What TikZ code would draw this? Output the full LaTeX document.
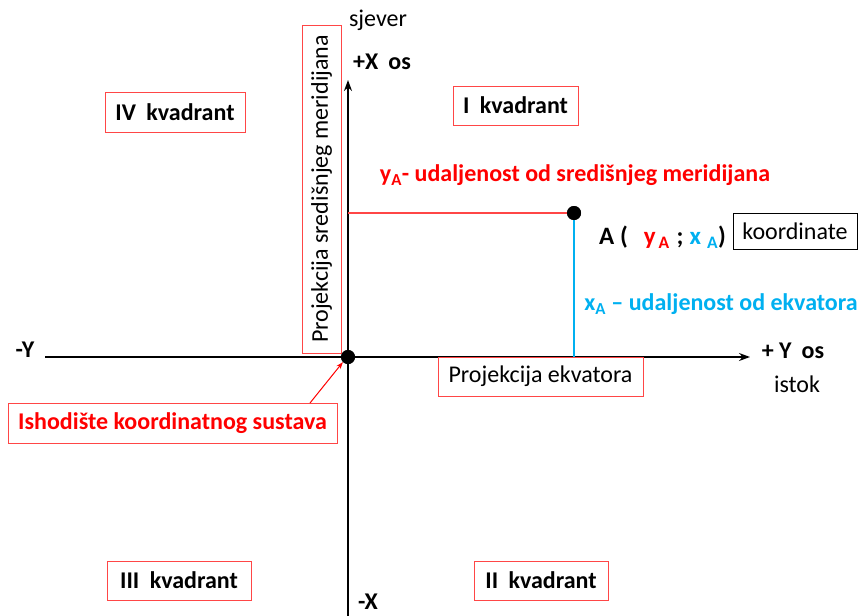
\documentclass[tikz,border=0pt]{standalone}
\usepackage{fontspec}
\setmainfont{Carlito}
\usetikzlibrary{arrows.meta}
\definecolor{myred}{RGB}{255,0,0}
\definecolor{boxred}{RGB}{255,70,70}
\definecolor{myblue}{RGB}{0,176,240}
\begin{document}
\begin{tikzpicture}[x=1pt,y=-1pt,
  redbox/.style={draw=boxred,line width=0.8pt,inner sep=0pt,fill=white},
  blkbox/.style={draw=black,line width=0.8pt,inner sep=0pt},
  lbl/.style={font=\fontsize{24}{28}\selectfont,inner sep=0pt},
  blbl/.style={font=\fontsize{24}{28}\selectfont\bfseries,inner sep=0pt},
  axis/.style={line width=1.6pt,-{Stealth[length=11pt,width=8pt]}},
  dot/.style={circle,fill=black,inner sep=0pt,minimum size=14pt}]
\useasboundingbox (0,0) rectangle (860,616);
% axes
\coordinate (xbot) at (348,616);
\coordinate (xtop) at (348,80);
\coordinate (yleft) at (45,357);
\coordinate (yright) at (750,357);
\draw[axis] (xbot) -- (xtop);
\draw[axis] (yleft) -- (yright);
% boxes
\node[redbox,minimum width=39pt,minimum height=328pt] (mer) at (321.5,189) {};
\node[lbl,rotate=90] (mertxt) at (mer.center) {Projekcija središnjeg meridijana};
\node[redbox,minimum width=140pt,minimum height=40pt] (q4) at (175,112) {};
\node[blbl] at (q4.center) {IV\hspace{5pt} kvadrant};
\node[redbox,minimum width=125pt,minimum height=39pt] (q1) at (515.5,105.5) {};
\node[blbl] at (q1.center) {I\hspace{5pt} kvadrant};
\node[redbox,minimum width=144pt,minimum height=39pt] (q3) at (179,580.5) {};
\node[blbl] at (q3.center) {III\hspace{5pt} kvadrant};
\node[redbox,minimum width=134pt,minimum height=39pt] (q2) at (541,580.5) {};
\node[blbl] at (q2.center) {II\hspace{5pt} kvadrant};
\node[redbox,minimum width=205pt,minimum height=39pt] (ekv) at (540.5,376.5) {};
\node[lbl] at (ekv.center) {Projekcija ekvatora};
\node[blkbox,minimum width=124pt,minimum height=36pt] (koord) at (795,231) {};
\node[lbl] at (koord.center) {koordinate};
\node[redbox,minimum width=329pt,minimum height=40pt] (ish) at (172.5,423) {};
\node[blbl,text=myred] at (ish.center) {Ishodište koordinatnog sustava};
% points
\node[dot] (O) at (348,357) {};
\node[dot] (A) at (574,213) {};
\coordinate (Ax) at (348,213);
\coordinate (Ay) at (574,357);
\draw[boxred,line width=1.6pt] (Ax) -- (A.center);
\draw[myblue,line width=1.6pt] (A.center) -- (Ay);
\node[dot] at (348,357) {};
\node[dot] at (574,213) {};
% arrow to origin
\coordinate (ishtop) at (310,403);
\draw[myred,line width=1pt,-{Stealth[length=7pt,width=5pt]}] (ishtop) -- (O.south west);
% labels
\node[lbl] (sj) at (378,20) {sjever};
\node[blbl] (px) at (382,62) {+X\hspace{10pt}os};
\node[blbl] (my) at (25,350) {-Y};
\node[blbl] (py) at (793,351) {+ Y\hspace{10pt}os};
\node[lbl] (ist) at (797,384) {istok};
\node[blbl] (mx) at (368,602) {-X};
\node[blbl,text=myred] (ya) at (575,175) {y\textsubscript{A}- udaljenost od središnjeg meridijana};
\node[blbl,text=myblue] (xa) at (721,304) {x\textsubscript{A} – udaljenost od ekvatora};
\node[blbl,anchor=west,font=\fontsize{25}{28}\selectfont\bfseries] (Alab) at (599,237) {A (\hspace{16pt}\textcolor{myred}{y\hspace{3pt}\textsubscript{A}}\hspace{7pt};\hspace{6pt}\textcolor{myblue}{x\hspace{6pt}\textsubscript{A}})};
\end{tikzpicture}
\end{document}
